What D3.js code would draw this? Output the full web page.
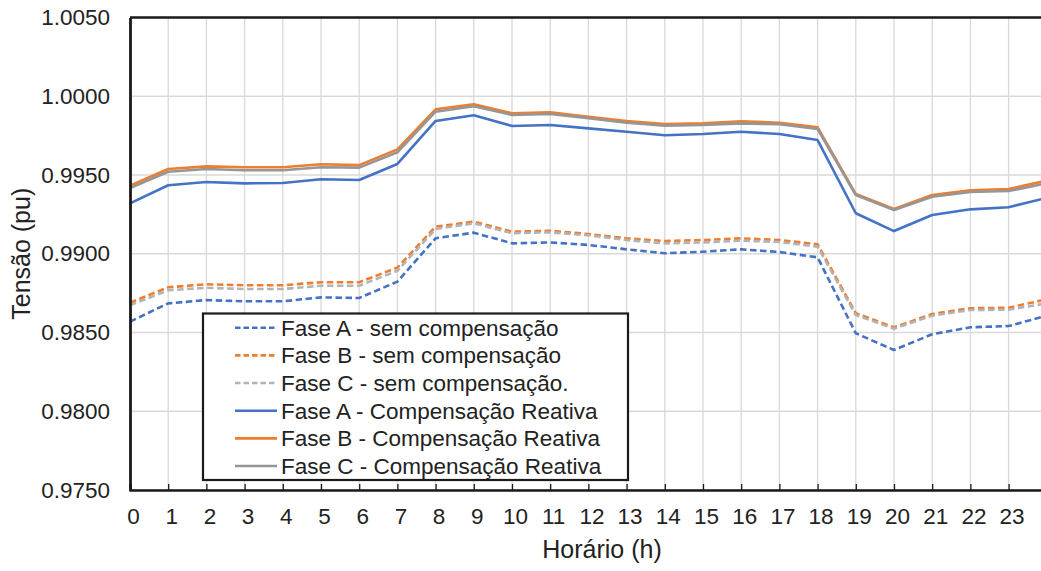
<!DOCTYPE html>
<html>
<head>
<meta charset="utf-8">
<script src="https://cdn.jsdelivr.net/npm/d3@7"></script>
<style>
  html, body { margin: 0; padding: 0; background: #ffffff; }
  svg { display: block; }
  text { font-family: "Liberation Sans", Arial, sans-serif; fill: #222222; }
</style>
</head>
<body>
<svg id="chart" width="1041" height="571"></svg>
<script>
// Hourly voltage profile (pu) per phase, with and without reactive compensation
const hours = [0, 1, 2, 3, 4, 5, 6, 7, 8, 9, 10, 11, 12, 13, 14, 15, 16, 17, 18, 19, 20, 21, 22, 23, 24];
const hourTicks = [0, 1, 2, 3, 4, 5, 6, 7, 8, 9, 10, 11, 12, 13, 14, 15, 16, 17, 18, 19, 20, 21, 22, 23];
const voltageTicks = [0.975, 0.980, 0.985, 0.990, 0.995, 1.000, 1.005];

const faseASem = [0.98569, 0.98685, 0.98706, 0.98698, 0.98698, 0.98723, 0.98719, 0.98823, 0.99098, 0.99134, 0.99066, 0.99072, 0.99056, 0.99028, 0.99003, 0.99013, 0.99028, 0.99011, 0.98977, 0.98495, 0.98389, 0.98489, 0.98533, 0.98541, 0.98607];
const faseBSem = [0.98689, 0.98787, 0.98806, 0.98800, 0.98800, 0.98819, 0.98819, 0.98912, 0.99172, 0.99204, 0.99140, 0.99146, 0.99125, 0.99098, 0.99081, 0.99087, 0.99098, 0.99087, 0.99060, 0.98622, 0.98533, 0.98617, 0.98654, 0.98657, 0.98711];
const faseCSem = [0.98673, 0.98768, 0.98784, 0.98776, 0.98776, 0.98797, 0.98797, 0.98892, 0.99157, 0.99193, 0.99130, 0.99136, 0.99117, 0.99087, 0.99066, 0.99072, 0.99083, 0.99075, 0.99045, 0.98611, 0.98524, 0.98607, 0.98643, 0.98645, 0.98685];
const faseAComp = [0.99320, 0.99435, 0.99456, 0.99447, 0.99449, 0.99473, 0.99468, 0.99570, 0.99843, 0.99879, 0.99811, 0.99817, 0.99796, 0.99775, 0.99752, 0.99760, 0.99775, 0.99760, 0.99722, 0.99257, 0.99144, 0.99246, 0.99282, 0.99295, 0.99355];
const faseBComp = [0.99432, 0.99538, 0.99555, 0.99549, 0.99549, 0.99568, 0.99563, 0.99663, 0.99917, 0.99949, 0.99892, 0.99898, 0.99870, 0.99843, 0.99824, 0.99828, 0.99841, 0.99832, 0.99803, 0.99379, 0.99284, 0.99373, 0.99403, 0.99411, 0.99464];
const faseCComp = [0.99417, 0.99521, 0.99538, 0.99530, 0.99530, 0.99549, 0.99547, 0.99644, 0.99902, 0.99936, 0.99881, 0.99887, 0.99860, 0.99832, 0.99813, 0.99817, 0.99828, 0.99822, 0.99792, 0.99373, 0.99278, 0.99362, 0.99392, 0.99398, 0.99447];

const seriesNames = [
  "Fase A - sem compensação",
  "Fase B - sem compensação",
  "Fase C - sem compensação.",
  "Fase A - Compensação Reativa",
  "Fase B - Compensação Reativa",
  "Fase C - Compensação Reativa"
];
const seriesValues = [faseASem, faseBSem, faseCSem, faseAComp, faseBComp, faseCComp];
const seriesColors = ["#4472C4", "#ED7D31", "#B4B4B4", "#4472C4", "#ED7D31", "#969696"];
const seriesDashed = [true, true, true, false, false, false];

const series = seriesNames.map((name, k) => ({
  name,
  color: seriesColors[k],
  dashed: seriesDashed[k],
  values: hours.map((h, i) => ({ h, v: seriesValues[k][i] }))
}));

const svg = d3.select("#chart");
const plot = { left: 130, top: 17.5, right: 1046.8, bottom: 490 };
const labelSize = 22.5;
const titleSize = 25;

const x = d3.scaleLinear().domain([0, 24]).range([plot.left, plot.right]);
const y = d3.scaleLinear().domain([0.975, 1.005]).range([plot.bottom, plot.top]);

svg.append("rect").attr("width", 1041).attr("height", 571).attr("fill", "#ffffff");

// Gridlines
const grid = svg.append("g");
grid.selectAll("line.h").data(voltageTicks).join("line")
  .attr("x1", plot.left).attr("x2", plot.right)
  .attr("y1", d => y(d)).attr("y2", d => y(d))
  .attr("stroke", "#d9d9d9").attr("stroke-width", 1.3);
grid.selectAll("line.v").data(hourTicks.slice(1)).join("line")
  .attr("x1", d => x(d)).attr("x2", d => x(d))
  .attr("y1", plot.top).attr("y2", plot.bottom)
  .attr("stroke", "#d9d9d9").attr("stroke-width", 1.3);

// Series lines
const line = d3.line().x(d => x(d.h)).y(d => y(d.v));
svg.append("g").selectAll("path").data(series).join("path")
  .attr("d", d => line(d.values))
  .attr("fill", "none")
  .attr("stroke", d => d.color)
  .attr("stroke-width", 2.6)
  .attr("stroke-linejoin", "round")
  .attr("stroke-dasharray", d => d.dashed ? "6.5,3.5" : null);

// Frame: top border
svg.append("line").attr("x1", plot.left).attr("x2", plot.right)
  .attr("y1", plot.top).attr("y2", plot.top)
  .attr("stroke", "#1a1a1a").attr("stroke-width", 2.4);

// X axis
const xAxis = d3.axisBottom(x).tickValues(hourTicks).tickSize(-6).tickPadding(18).tickFormat(d3.format("d"));
const gx = svg.append("g").attr("transform", `translate(0,${plot.bottom})`).call(xAxis);
gx.select(".domain").attr("stroke", "#1a1a1a").attr("stroke-width", 2.4);
gx.selectAll(".tick line").attr("stroke", "#1a1a1a").attr("stroke-width", 1.3);
gx.selectAll(".tick text").attr("font-size", labelSize).attr("dx", 3).attr("fill", "#222222")
  .style("font-family", "'Liberation Sans', Arial, sans-serif");

// Y axis
const yAxis = d3.axisLeft(y).tickValues(voltageTicks).tickSize(0).tickPadding(20).tickFormat(d3.format(".4f"));
const gy = svg.append("g").attr("transform", `translate(${plot.left},0)`).call(yAxis);
gy.select(".domain").attr("stroke", "#1a1a1a").attr("stroke-width", 2.8);
gy.selectAll(".tick text").attr("font-size", labelSize).attr("fill", "#222222")
  .style("font-family", "'Liberation Sans', Arial, sans-serif");

// Axis titles
svg.append("text").attr("x", 602).attr("y", 558).attr("text-anchor", "middle")
  .attr("font-size", titleSize).text("Horário (h)");
svg.append("text").attr("transform", `translate(30,${(plot.top + plot.bottom) / 2}) rotate(-90)`)
  .attr("text-anchor", "middle").attr("font-size", titleSize).text("Tensão (pu)");

// Legend
const legend = svg.append("g");
legend.append("rect").attr("x", 203).attr("y", 313.5).attr("width", 425).attr("height", 166.5)
  .attr("fill", "#ffffff").attr("stroke", "#1a1a1a").attr("stroke-width", 2.2);
const rowY = d3.scaleLinear().domain([0, 5]).range([327.7, 466]);
const items = legend.selectAll("g.item").data(series).join("g")
  .attr("transform", (d, i) => `translate(0,${rowY(i)})`);
items.append("line").attr("x1", 235).attr("x2", 277).attr("y1", 0).attr("y2", 0)
  .attr("stroke", d => d.color).attr("stroke-width", 2.6)
  .attr("stroke-dasharray", d => d.dashed ? "5.5,3" : null);
items.append("text").attr("x", 281).attr("y", 0).attr("dy", "0.35em")
  .attr("font-size", labelSize).text(d => d.name);
</script>
</body>
</html>
